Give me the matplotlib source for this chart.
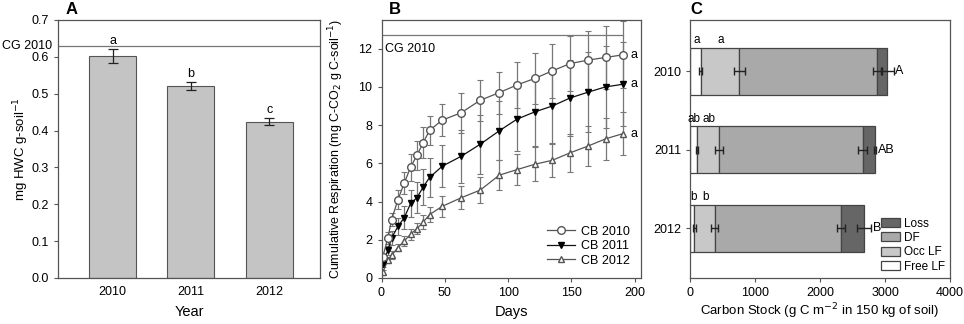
import numpy as np
import matplotlib.pyplot as plt
import matplotlib.transforms as mtransforms
from matplotlib.lines import Line2D

plt.rcParams['font.family'] = 'Liberation Sans'
plt.rcParams['font.size'] = 9

##### Panel A: hot water extractable carbon #####
years = ['2010', '2011', '2012']
hwc = [0.602, 0.521, 0.424]
hwc_err = [0.02, 0.012, 0.01]
hwc_letters = ['a', 'b', 'c']
cg_hwc = 0.63

##### Panel B: cumulative respiration #####
days = [1, 5, 8, 13, 18, 23, 28, 33, 38, 48, 63, 78, 93, 107, 121, 135, 149, 163, 177, 191]
cb2010 = [1.1, 2.09, 3.06, 4.1, 4.97, 5.8, 6.42, 7.09, 7.73, 8.26, 8.65, 9.3, 9.7, 10.1,
          10.44, 10.84, 11.22, 11.4, 11.54, 11.68]
cb2010_err = [0.15, 0.3, 0.35, 0.5, 0.6, 0.7, 0.75, 0.8, 0.75, 0.85, 1.05, 1.08, 1.1, 1.2,
              1.35, 1.43, 1.45, 1.53, 1.65, 1.76]
cb2011 = [0.75, 1.45, 2.1, 2.7, 3.16, 3.9, 4.2, 4.77, 5.26, 5.85, 6.37, 7.0, 7.7, 8.31,
          8.69, 9.0, 9.42, 9.72, 10.0, 10.14]
cb2011_err = [0.15, 0.25, 0.35, 0.45, 0.6, 0.7, 0.8, 0.95, 1.0, 1.1, 1.4, 1.55, 1.55, 1.65,
              1.8, 1.95, 2.0, 2.1, 2.15, 2.2]
cb2012 = [0.3, 0.93, 1.19, 1.59, 1.94, 2.29, 2.58, 2.93, 3.32, 3.75, 4.2, 4.6, 5.38, 5.67,
          5.95, 6.16, 6.55, 6.9, 7.28, 7.56]
cb2012_err = [0.1, 0.15, 0.2, 0.2, 0.25, 0.3, 0.3, 0.35, 0.4, 0.55, 0.6, 0.7, 0.78, 0.82,
              0.88, 0.87, 1.0, 1.04, 1.08, 1.1]
resp_letters = ['a', 'a', 'a']
cg_resp = 12.7

##### Panel C: carbon stocks (stacked) #####
free_lf = [165, 108, 67]
occ_lf = [595, 344, 313]
df = [2124, 2206, 1944]
loss = [150, 191, 349]
free_err = [25, 15, 20]
occ_err = [90, 60, 55]
df_err = [66, 72, 60]
loss_err = [100, 15, 110]
free_letters = ['a', 'ab', 'b']
occ_letters = ['a', 'ab', 'b']
total_letters = ['A', 'AB', 'B']

fig = plt.figure(figsize=(9.64, 3.24), dpi=100)
frame_col = '#555555'

def style_axes(ax):
    for s in ax.spines.values():
        s.set_color(frame_col)
        s.set_linewidth(0.9)
    ax.tick_params(direction='out', length=3, color=frame_col, labelsize=9)

########## A ##########
axA = fig.add_axes([58 / 964, 46 / 324, 262 / 964, 258 / 324])
x = np.arange(len(years))
axA.bar(x, hwc, width=0.6, color='#c4c4c4', edgecolor='#555555', linewidth=0.8, zorder=2)
axA.errorbar(x, hwc, yerr=hwc_err, fmt='none', ecolor='#222222', elinewidth=0.9,
             capsize=3.5, capthick=0.9, zorder=3)
for xi, v, e, l in zip(x, hwc, hwc_err, hwc_letters):
    axA.text(xi, v + e + 0.005, l, ha='center', va='bottom', fontsize=9)
axA.axhline(cg_hwc, color='#777777', linewidth=0.9)
axA.set_xlim(-0.7, 2.65)
axA.set_ylim(0, 0.7)
axA.set_xticks(x)
axA.set_xticklabels(years)
axA.set_yticks(np.arange(0, 0.71, 0.1))
axA.set_yticklabels(['%.1f' % t for t in np.arange(0, 0.71, 0.1)])
style_axes(axA)
axA.tick_params(axis='x', length=0, pad=6)
axA.set_xlabel('Year', fontsize=10.5)
axA.set_ylabel('mg HWC g-soil$^{-1}$', fontsize=9.5)
axA.xaxis.set_label_coords(0.5, -0.106)
axA.yaxis.set_label_coords(-0.103, 0.5)
axA.text(0.03, 1.01, 'A', transform=axA.transAxes, fontsize=12, fontweight='bold',
         va='bottom')
# CG 2010 reference label sits in the left margin
trA = mtransforms.blended_transform_factory(fig.transFigure, axA.transData)
axA.text(2 / 964, cg_hwc, 'CG 2010', transform=trA, ha='left', va='center', fontsize=9)

########## B ##########
axB = fig.add_axes([381.5 / 964, 46 / 324, 259.5 / 964, 258 / 324])
ekw = dict(ecolor='#777777', elinewidth=0.9, capsize=2.5, capthick=0.8)
axB.errorbar(days, cb2012, yerr=cb2012_err, color='#555555', marker='^', mfc='white',
             mec='#555555', ms=5, lw=0.9, **ekw)
axB.errorbar(days, cb2011, yerr=cb2011_err, color='#111111', marker='v', mfc='black',
             mec='black', ms=5, lw=0.9, **ekw)
axB.errorbar(days, cb2010, yerr=cb2010_err, color='#555555', marker='o', mfc='white',
             mec='#555555', ms=5.5, lw=0.9, **ekw)
axB.plot([0, 191], [cg_resp, cg_resp], color='#777777', linewidth=0.9)
axB.text(3, 12.0, 'CG 2010', ha='left', va='center', fontsize=9)
for v, l in zip([cb2010[-1], cb2011[-1], cb2012[-1]], resp_letters):
    axB.text(197, v, l, ha='left', va='center', fontsize=9)
axB.set_xlim(0, 205)
axB.set_ylim(0, 13.5)
axB.set_xticks([0, 50, 100, 150, 200])
axB.set_yticks([0, 2, 4, 6, 8, 10, 12])
style_axes(axB)
handles = [
    Line2D([], [], color='#555555', marker='o', mfc='white', mec='#555555', ms=5.5, lw=0.9),
    Line2D([], [], color='#111111', marker='v', mfc='black', mec='black', ms=5, lw=0.9),
    Line2D([], [], color='#555555', marker='^', mfc='white', mec='#555555', ms=5, lw=0.9),
]
axB.legend(handles, ['CB 2010', 'CB 2011', 'CB 2012'], loc='lower right', frameon=False,
           fontsize=9, handlelength=2.2, labelspacing=0.2, borderaxespad=0.5,
           handletextpad=0.5)
axB.set_xlabel('Days', fontsize=10.5)
axB.set_ylabel('Cumulative Respiration (mg C-CO$_2$ g C-soil$^{-1}$)', fontsize=9)
axB.xaxis.set_label_coords(0.5, -0.106)
axB.yaxis.set_label_coords(-0.135, 0.5)
axB.text(0.03, 1.01, 'B', transform=axB.transAxes, fontsize=12, fontweight='bold',
         va='bottom')

########## C ##########
axC = fig.add_axes([690 / 964, 46 / 324, 260 / 964, 258 / 324])
yC = np.arange(len(years))
left = np.zeros(len(years))
seg_kw = dict(height=0.6, edgecolor='#444444', linewidth=0.9, zorder=2)
axC.barh(yC, free_lf, left=left, color='white', label='Free LF', **seg_kw)
left = left + np.array(free_lf)
free_end = left.copy()
axC.barh(yC, occ_lf, left=left, color='#c8c8c8', label='Occ LF', **seg_kw)
left = left + np.array(occ_lf)
occ_end = left.copy()
axC.barh(yC, df, left=left, color='#a9a9a9', label='DF', **seg_kw)
left = left + np.array(df)
df_end = left.copy()
axC.barh(yC, loss, left=left, color='#666666', label='Loss', **seg_kw)
left = left + np.array(loss)
total_end = left.copy()
hkw = dict(fmt='none', ecolor='#222222', elinewidth=1.0, capsize=3, capthick=1.0, zorder=3)
axC.errorbar(free_end, yC, xerr=free_err, **hkw)
axC.errorbar(occ_end, yC, xerr=occ_err, **hkw)
axC.errorbar(df_end, yC, xerr=df_err, **hkw)
axC.errorbar(total_end, yC, xerr=loss_err, **hkw)
for yi, fe, oe, fl, ol in zip(yC, free_end, occ_end, free_letters, occ_letters):
    axC.text(fe / 2 + 15, yi - 0.32, fl, ha='center', va='bottom', fontsize=8.5)
    axC.text((fe + oe) / 2 + 15, yi - 0.32, ol, ha='center', va='bottom', fontsize=8.5)
for yi, te, e, tl in zip(yC, total_end, loss_err, total_letters):
    axC.text(te + e + 25, yi, tl, ha='left', va='center', fontsize=9)
axC.set_xlim(0, 4000)
axC.set_ylim(2.63, -0.65)
axC.set_xticks([0, 1000, 2000, 3000, 4000])
axC.set_yticks(yC)
axC.set_yticklabels(years)
style_axes(axC)
h, lab = axC.get_legend_handles_labels()
axC.legend(h[::-1], lab[::-1], loc='lower right', frameon=False, fontsize=8.5,
           handlelength=1.6, handleheight=0.8, labelspacing=0.2, borderaxespad=0.05,
           handletextpad=0.3)
axC.set_xlabel('Carbon Stock (g C m$^{-2}$ in 150 kg of soil)', fontsize=9.5)
axC.xaxis.set_label_coords(0.5, -0.09)
axC.text(0.0, 1.01, 'C', transform=axC.transAxes, fontsize=12, fontweight='bold',
         va='bottom')

plt.savefig('out.png', dpi=100)
